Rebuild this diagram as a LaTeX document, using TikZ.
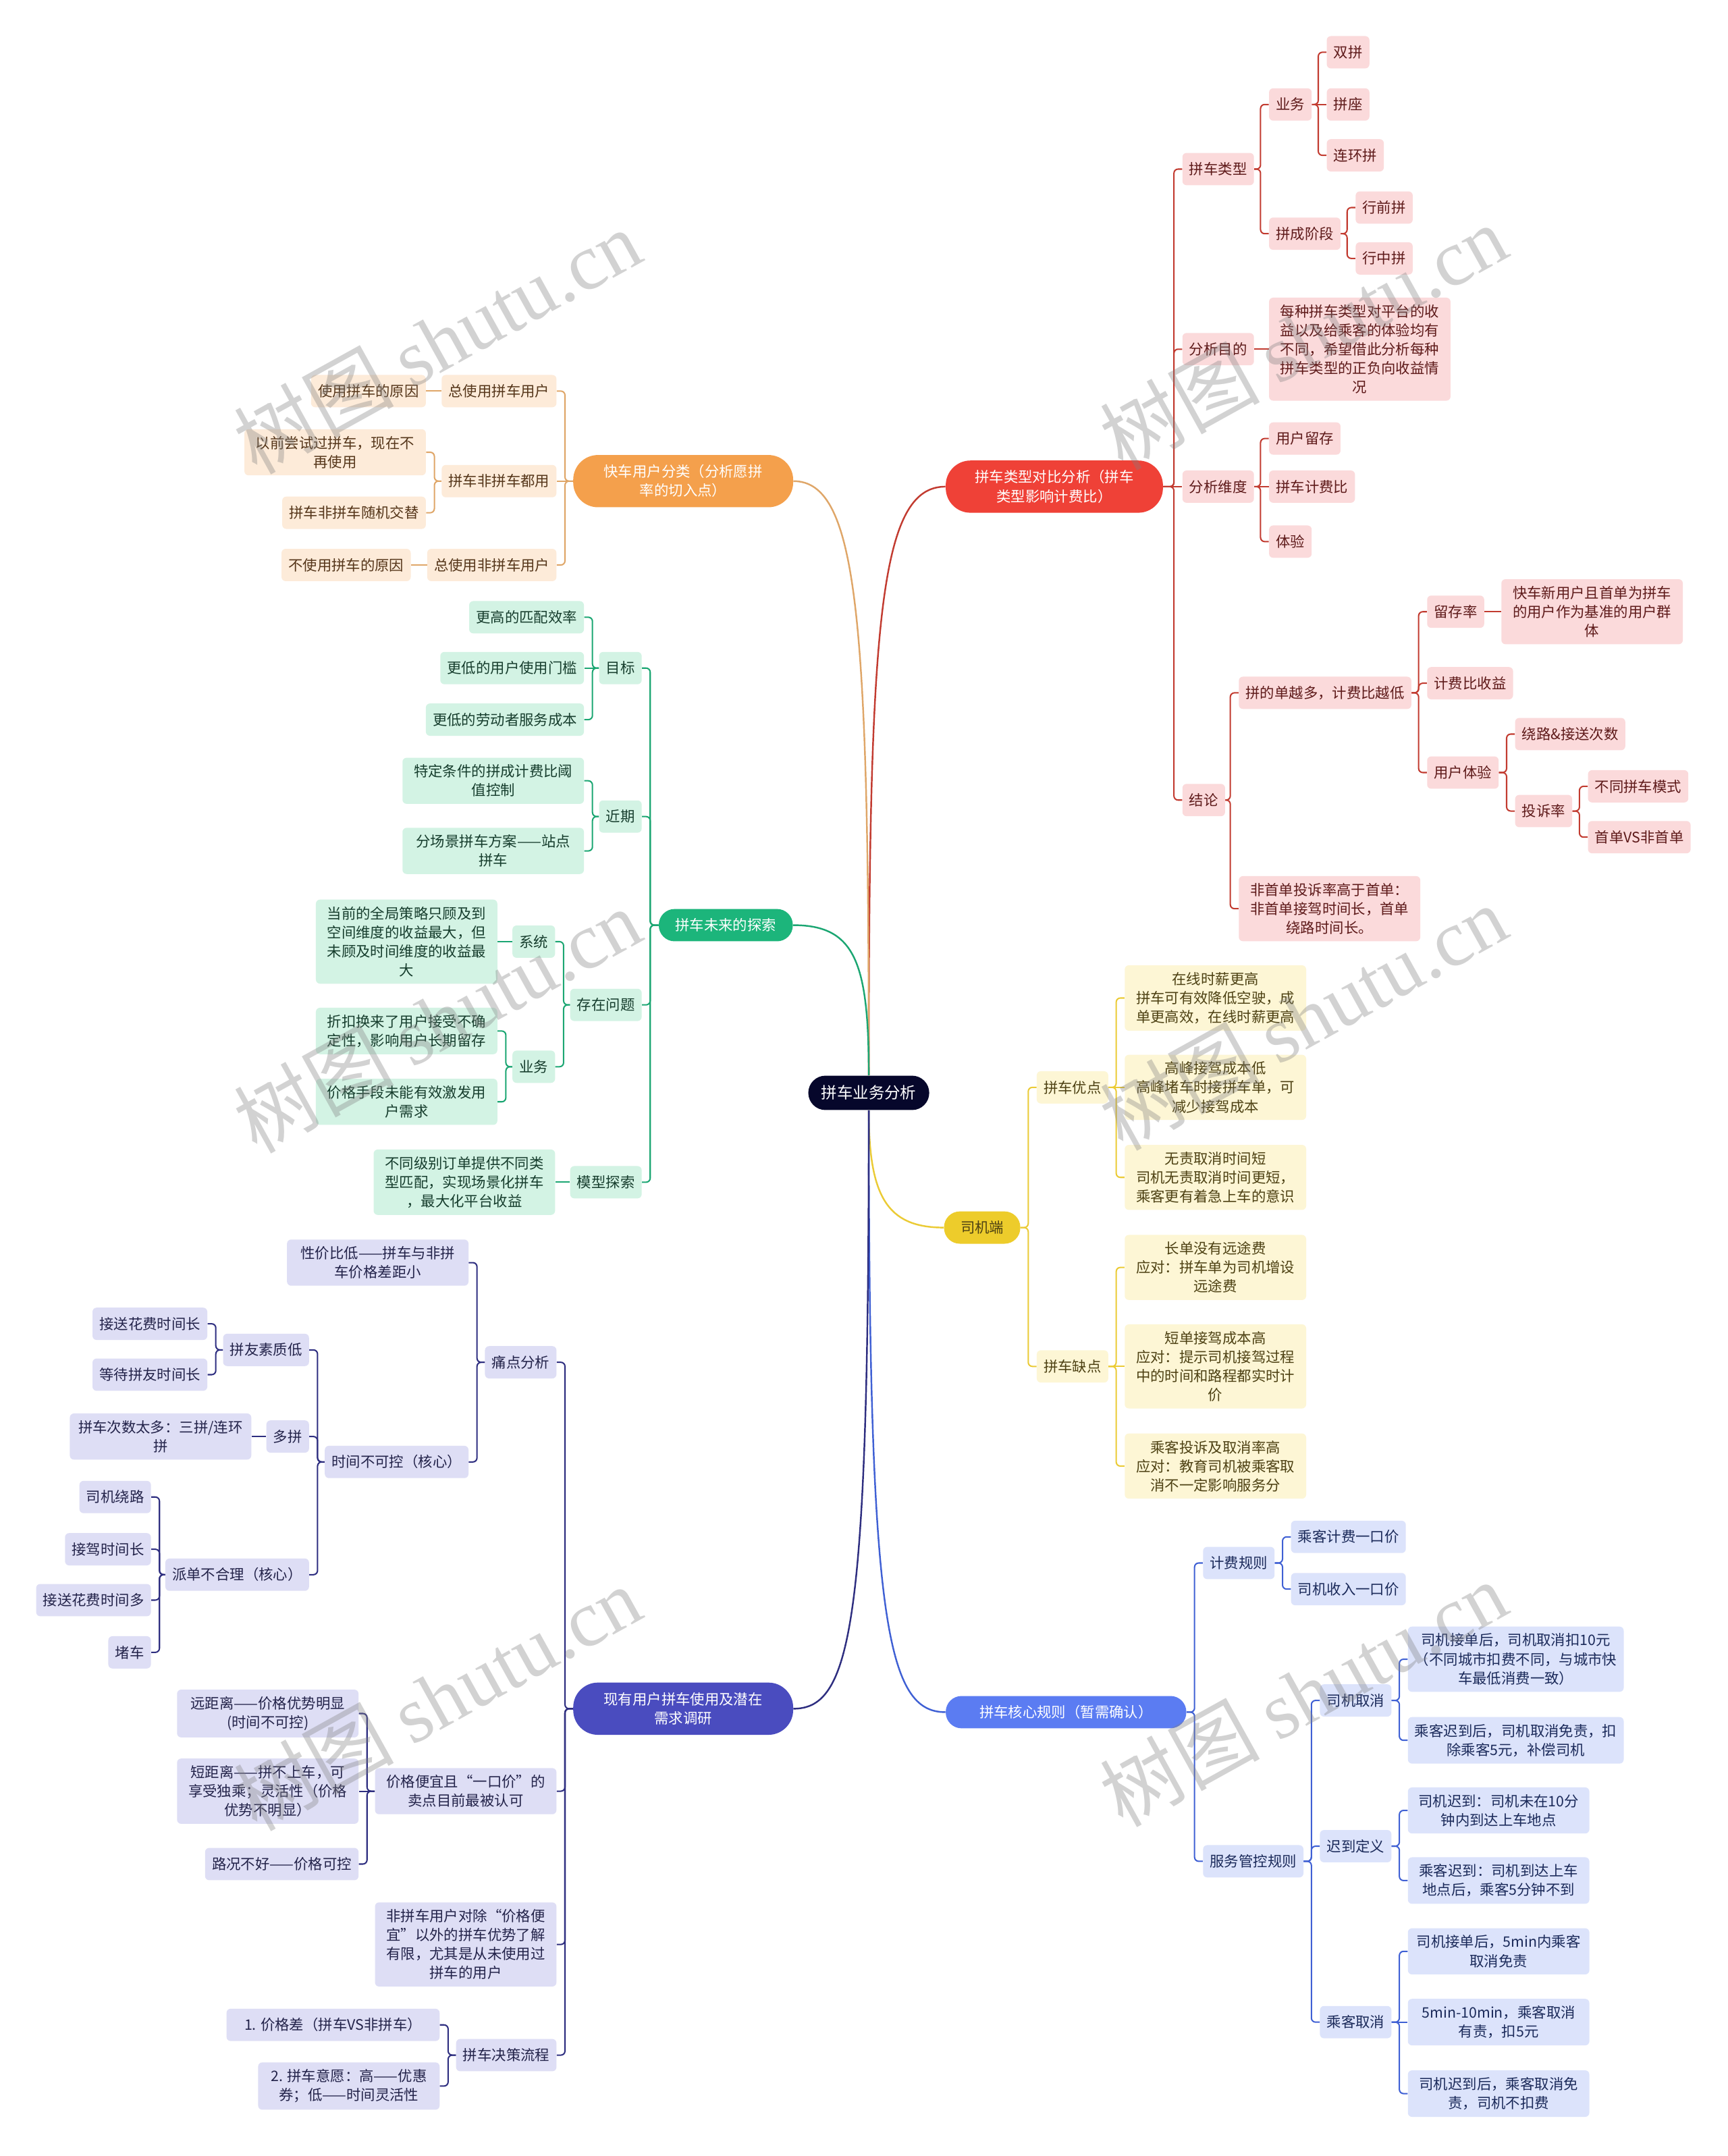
\documentclass[tikz,border=0pt]{standalone}
\usepackage{fontspec}
\setmainfont{Noto Sans CJK SC}
\newfontfamily\wmfont{Liberation Serif}

\definecolor{rootc}{HTML}{06072B}
\definecolor{redm}{HTML}{EF4137}
\definecolor{redp}{HTML}{FBDADB}
\definecolor{redl}{HTML}{C23B30}
\definecolor{redt}{HTML}{5E1A1A}
\definecolor{orgm}{HTML}{F4A04C}
\definecolor{orgp}{HTML}{FDEBD9}
\definecolor{orgl}{HTML}{DFA668}
\definecolor{orgt}{HTML}{55361A}
\definecolor{grnm}{HTML}{1CB57B}
\definecolor{grnp}{HTML}{D3F3E4}
\definecolor{grnl}{HTML}{1BA672}
\definecolor{grnt}{HTML}{163D2D}
\definecolor{ylwm}{HTML}{EDCC2B}
\definecolor{ylwp}{HTML}{FDF6D5}
\definecolor{ylwl}{HTML}{EBCB35}
\definecolor{ylwt}{HTML}{4D4113}
\definecolor{blum}{HTML}{5B7CF2}
\definecolor{blup}{HTML}{DCE3FB}
\definecolor{blul}{HTML}{3F60D4}
\definecolor{blut}{HTML}{1B2A5A}
\definecolor{indm}{HTML}{4A4CBF}
\definecolor{indp}{HTML}{DEDEF5}
\definecolor{indl}{HTML}{2E2E80}
\definecolor{indt}{HTML}{23234A}

% elbow connectors: parent side -> spine -> child side
\newcommand{\linkR}[3]{\draw[#1] (#2.east) -| ([xshift=-6pt]#3.west) -- (#3.west);}
\newcommand{\linkL}[3]{\draw[#1] (#2.west) -| ([xshift=6pt]#3.east) -- (#3.east);}

\begin{document}
\begin{tikzpicture}[x=1pt, y=-1pt,
  every node/.style={font=\fontsize{10.5}{13.8}\selectfont, align=center},
  box/.style={rounded corners=3pt, inner xsep=5pt, inner ysep=5pt, minimum height=23.5pt},
  wide/.style={minimum width=132pt},
  pill/.style={rounded corners=11.5pt, inner xsep=12pt, minimum height=23.5pt, text=white},
  pilltwo/.style={pill, rounded corners=18pt, minimum height=38pt},
  rbox/.style={box, fill=redp, text=redt},
  obox/.style={box, fill=orgp, text=orgt},
  gbox/.style={box, fill=grnp, text=grnt},
  ybox/.style={box, fill=ylwp, text=ylwt},
  bbox/.style={box, fill=blup, text=blut},
  ibox/.style={box, fill=indp, text=indt},
  rl/.style={draw=redl, line width=1pt, rounded corners=3pt},
  ol/.style={draw=orgl, line width=1pt, rounded corners=3pt},
  gl/.style={draw=grnl, line width=1pt, rounded corners=3pt},
  yl/.style={draw=ylwl, line width=1pt, rounded corners=3pt},
  bl/.style={draw=blul, line width=1pt, rounded corners=3pt},
  il/.style={draw=indl, line width=1pt, rounded corners=3pt},
  wm/.style={rotate=29, text=gray, opacity=0.35, font=\fontsize{58}{60}\selectfont}]

\fill[white] (0,0) rectangle (1257,1568.4);
\useasboundingbox (0,0) rectangle (1257,1568.4);

% centre
\node[fill=rootc, text=white, rounded corners=12.5pt, minimum width=88pt, minimum height=25pt,
  font=\fontsize{11.5}{14}\selectfont] (root) at (632,795) {拼车业务分析};

% red branch
\node[pilltwo, fill=redm, minimum width=158pt] (a) at (767,354) {拼车类型对比分析（拼车\\类型影响计费比）};
\node[rbox, anchor=west] (a1) at (860,123) {拼车类型};
\node[rbox, anchor=west] (a11) at (923,76) {业务};
\node[rbox, anchor=west] (a111) at (965,38) {双拼};
\node[rbox, anchor=west] (a112) at (965,76) {拼座};
\node[rbox, anchor=west] (a113) at (965,113) {连环拼};
\node[rbox, anchor=west] (a12) at (923,170) {拼成阶段};
\node[rbox, anchor=west] (a121) at (986,151) {行前拼};
\node[rbox, anchor=west] (a122) at (986,188) {行中拼};
\node[rbox, anchor=west] (a2) at (860,254) {分析目的};
\node[rbox, wide, anchor=west] (a21) at (923,254) {每种拼车类型对平台的收\\益以及给乘客的体验均有\\不同，希望借此分析每种\\拼车类型的正负向收益情\\况};
\node[rbox, anchor=west] (a3) at (860,354) {分析维度};
\node[rbox, anchor=west] (a31) at (923,319) {用户留存};
\node[rbox, anchor=west] (a32) at (923,354) {拼车计费比};
\node[rbox, anchor=west] (a33) at (923,394) {体验};
\node[rbox, anchor=west] (a4) at (860,582) {结论};
\node[rbox, anchor=west] (a41) at (901,504) {拼的单越多，计费比越低};
\node[rbox, anchor=west] (a411) at (1038,445) {留存率};
\node[rbox, wide, anchor=west] (a4111) at (1092,445) {快车新用户且首单为拼车\\的用户作为基准的用户群\\体};
\node[rbox, anchor=west] (a412) at (1038,497) {计费比收益};
\node[rbox, anchor=west] (a413) at (1038,562) {用户体验};
\node[rbox, anchor=west] (a4131) at (1102,534) {绕路\&接送次数};
\node[rbox, anchor=west] (a4132) at (1102,590) {投诉率};
\node[rbox, anchor=west] (a41321) at (1155,572) {不同拼车模式};
\node[rbox, anchor=west] (a41322) at (1155,609) {首单VS非首单};
\node[rbox, wide, anchor=west] (a42) at (901,661) {非首单投诉率高于首单：\\非首单接驾时间长，首单\\绕路时间长。};

% yellow branch
\node[pill, fill=ylwm, text=ylwt, minimum width=55pt] (b) at (714.5,893) {司机端};
\node[ybox, anchor=west] (b1) at (754,791) {拼车优点};
\node[ybox, wide, anchor=west] (b11) at (818,726) {在线时薪更高\\拼车可有效降低空驶，成\\单更高效，在线时薪更高};
\node[ybox, wide, anchor=west] (b12) at (818,791) {高峰接驾成本低\\高峰堵车时接拼车单，可\\减少接驾成本};
\node[ybox, wide, anchor=west] (b13) at (818,856.5) {无责取消时间短\\司机无责取消时间更短，\\乘客更有着急上车的意识};
\node[ybox, anchor=west] (b2) at (754,994) {拼车缺点};
\node[ybox, wide, anchor=west] (b21) at (818,922) {长单没有远途费\\应对：拼车单为司机增设\\远途费};
\node[ybox, wide, anchor=west] (b22) at (818,994) {短单接驾成本高\\应对：提示司机接驾过程\\中的时间和路程都实时计\\价};
\node[ybox, wide, anchor=west] (b23) at (818,1066.5) {乘客投诉及取消率高\\应对：教育司机被乘客取\\消不一定影响服务分};

% blue branch
\node[pill, fill=blum, minimum width=175pt] (c) at (775.5,1245.5) {拼车核心规则（暂需确认）};
\node[bbox, anchor=west] (c1) at (875,1137) {计费规则};
\node[bbox, anchor=west] (c11) at (939,1118) {乘客计费一口价};
\node[bbox, anchor=west] (c12) at (939,1156) {司机收入一口价};
\node[bbox, anchor=west] (c2) at (875,1354) {服务管控规则};
\node[bbox, anchor=west] (c21) at (960,1237) {司机取消};
\node[bbox, minimum width=157pt, anchor=west] (c211) at (1024,1207) {司机接单后，司机取消扣10元\\（不同城市扣费不同，与城市快\\车最低消费一致）};
\node[bbox, minimum width=157pt, anchor=west] (c212) at (1024,1266) {乘客迟到后，司机取消免责，扣\\除乘客5元，补偿司机};
\node[bbox, anchor=west] (c22) at (960,1343) {迟到定义};
\node[bbox, wide, anchor=west] (c221) at (1024,1317) {司机迟到：司机未在10分\\钟内到达上车地点};
\node[bbox, wide, anchor=west] (c222) at (1024,1368) {乘客迟到：司机到达上车\\地点后，乘客5分钟不到};
\node[bbox, anchor=west] (c23) at (960,1471) {乘客取消};
\node[bbox, wide, anchor=west] (c231) at (1024,1419.5) {司机接单后，5min内乘客\\取消免责};
\node[bbox, wide, anchor=west] (c232) at (1024,1471) {5min-10min，乘客取消\\有责，扣5元};
\node[bbox, wide, anchor=west] (c233) at (1024,1523) {司机迟到后，乘客取消免\\责，司机不扣费};

% orange branch
\node[pilltwo, fill=orgm, minimum width=160pt] (d) at (497,350) {快车用户分类（分析愿拼\\率的切入点）};
\node[obox, anchor=east] (d1) at (405,284.5) {总使用拼车用户};
\node[obox, anchor=east] (d11) at (310,284.5) {使用拼车的原因};
\node[obox, anchor=east] (d2) at (405,350) {拼车非拼车都用};
\node[obox, wide, anchor=east] (d21) at (310,329) {以前尝试过拼车，现在不\\再使用};
\node[obox, anchor=east] (d22) at (310,373) {拼车非拼车随机交替};
\node[obox, anchor=east] (d3) at (405,411) {总使用非拼车用户};
\node[obox, anchor=east] (d31) at (299,411) {不使用拼车的原因};

% green branch
\node[pill, fill=grnm, minimum width=97pt] (e) at (528,673) {拼车未来的探索};
\node[gbox, anchor=east] (e1) at (467,486) {目标};
\node[gbox, anchor=east] (e11) at (425,449) {更高的匹配效率};
\node[gbox, anchor=east] (e12) at (425,486) {更低的用户使用门槛};
\node[gbox, anchor=east] (e13) at (425,523.5) {更低的劳动者服务成本};
\node[gbox, anchor=east] (e2) at (467,594) {近期};
\node[gbox, wide, anchor=east] (e21) at (425,568) {特定条件的拼成计费比阈\\值控制};
\node[gbox, wide, anchor=east] (e22) at (425,619) {分场景拼车方案——站点\\拼车};
\node[gbox, anchor=east] (e3) at (467,731) {存在问题};
\node[gbox, anchor=east] (e31) at (404,685) {系统};
\node[gbox, wide, anchor=east] (e311) at (362,685) {当前的全局策略只顾及到\\空间维度的收益最大，但\\未顾及时间维度的收益最\\大};
\node[gbox, anchor=east] (e32) at (404,776) {业务};
\node[gbox, wide, anchor=east] (e321) at (362,750) {折扣换来了用户接受不确\\定性，影响用户长期留存};
\node[gbox, wide, anchor=east] (e322) at (362,801.5) {价格手段未能有效激发用\\户需求};
\node[gbox, anchor=east] (e4) at (467,860) {模型探索};
\node[gbox, wide, anchor=east] (e41) at (404,860) {不同级别订单提供不同类\\型匹配，实现场景化拼车\\，最大化平台收益};

% indigo branch
\node[pilltwo, fill=indm, minimum width=160pt] (f) at (497,1243) {现有用户拼车使用及潜在\\需求调研};
\node[ibox, anchor=east] (f1) at (405,991) {痛点分析};
\node[ibox, wide, anchor=east] (f11) at (341,918.5) {性价比低——拼车与非拼\\车价格差距小};
\node[ibox, anchor=east] (f12) at (341,1063.5) {时间不可控（核心）};
\node[ibox, anchor=east] (f121) at (225,982) {拼友素质低};
\node[ibox, anchor=east] (f1211) at (151,963) {接送花费时间长};
\node[ibox, anchor=east] (f1212) at (151,1000) {等待拼友时间长};
\node[ibox, anchor=east] (f122) at (225,1045) {多拼};
\node[ibox, wide, anchor=east] (f1221) at (183,1045) {拼车次数太多：三拼/连环\\拼};
\node[ibox, anchor=east] (f123) at (225,1145.5) {派单不合理（核心）};
\node[ibox, anchor=east] (f1231) at (110,1089) {司机绕路};
\node[ibox, anchor=east] (f1232) at (110,1127) {接驾时间长};
\node[ibox, anchor=east] (f1233) at (110,1164) {接送花费时间多};
\node[ibox, anchor=east] (f1234) at (110,1202) {堵车};
\node[ibox, wide, anchor=east] (f2) at (405,1303) {价格便宜且“一口价”的\\卖点目前最被认可};
\node[ibox, wide, anchor=east] (f21) at (261,1246.5) {远距离——价格优势明显\\(时间不可控)};
\node[ibox, wide, anchor=east] (f22) at (261,1303) {短距离——拼不上车，可\\享受独乘；灵活性（价格\\优势不明显）};
\node[ibox, anchor=east] (f23) at (261,1356) {路况不好——价格可控};
\node[ibox, wide, anchor=east] (f3) at (405,1414.5) {非拼车用户对除“价格便\\宜”以外的拼车优势了解\\有限，尤其是从未使用过\\拼车的用户};
\node[ibox, anchor=east] (f4) at (405,1495) {拼车决策流程};
\node[ibox, minimum width=155pt, anchor=east] (f41) at (320,1473) {1. 价格差（拼车VS非拼车）};
\node[ibox, wide, anchor=east] (f42) at (320,1517.5) {2. 拼车意愿：高——优惠\\券；低——时间灵活性};

% centre to main topics
\draw[draw=redl, line width=1.2pt] (root.north) .. controls (632,450) and (640,354) .. (a.west);
\draw[draw=orgl, line width=1.2pt] (root.north) .. controls (632,450) and (624,350) .. (d.east);
\draw[draw=grnl, line width=1.2pt] (root.north) .. controls (632,700) and (622,673) .. (e.east);
\draw[draw=ylwl, line width=1.2pt] (root.south) .. controls (632,870) and (645,893) .. (b.west);
\draw[draw=blul, line width=1.2pt] (root.south) .. controls (632,1180) and (645,1245.5) .. (c.west);
\draw[draw=indl, line width=1.2pt] (root.south) .. controls (632,1180) and (620,1243) .. (f.east);

% red links
\foreach \c in {a1,a2,a4} {\linkR{rl}{a}{\c}}
\draw[rl] (a) -- (a3);
\linkR{rl}{a1}{a11} \linkR{rl}{a1}{a12}
\linkR{rl}{a11}{a111} \linkR{rl}{a11}{a113} \draw[rl] (a11) -- (a112);
\linkR{rl}{a12}{a121} \linkR{rl}{a12}{a122}
\draw[rl] (a2) -- (a21);
\linkR{rl}{a3}{a31} \linkR{rl}{a3}{a33} \draw[rl] (a3) -- (a32);
\linkR{rl}{a4}{a41} \linkR{rl}{a4}{a42}
\foreach \c in {a411,a412,a413} {\linkR{rl}{a41}{\c}}
\draw[rl] (a411) -- (a4111);
\linkR{rl}{a413}{a4131} \linkR{rl}{a413}{a4132}
\linkR{rl}{a4132}{a41321} \linkR{rl}{a4132}{a41322}

% yellow links
\linkR{yl}{b}{b1} \linkR{yl}{b}{b2}
\linkR{yl}{b1}{b11} \linkR{yl}{b1}{b13} \draw[yl] (b1) -- (b12);
\linkR{yl}{b2}{b21} \linkR{yl}{b2}{b23} \draw[yl] (b2) -- (b22);

% blue links
\linkR{bl}{c}{c1} \linkR{bl}{c}{c2}
\linkR{bl}{c1}{c11} \linkR{bl}{c1}{c12}
\foreach \c in {c21,c22,c23} {\linkR{bl}{c2}{\c}}
\linkR{bl}{c21}{c211} \linkR{bl}{c21}{c212}
\linkR{bl}{c22}{c221} \linkR{bl}{c22}{c222}
\linkR{bl}{c23}{c231} \linkR{bl}{c23}{c233} \draw[bl] (c23) -- (c232);

% orange links
\linkL{ol}{d}{d1} \linkL{ol}{d}{d3} \draw[ol] (d) -- (d2);
\draw[ol] (d1) -- (d11);
\linkL{ol}{d2}{d21} \linkL{ol}{d2}{d22}
\draw[ol] (d3) -- (d31);

% green links
\foreach \c in {e1,e2,e3,e4} {\linkL{gl}{e}{\c}}
\linkL{gl}{e1}{e11} \linkL{gl}{e1}{e13} \draw[gl] (e1) -- (e12);
\linkL{gl}{e2}{e21} \linkL{gl}{e2}{e22}
\linkL{gl}{e3}{e31} \linkL{gl}{e3}{e32}
\draw[gl] (e31) -- (e311);
\linkL{gl}{e32}{e321} \linkL{gl}{e32}{e322}
\draw[gl] (e4) -- (e41);

% indigo links
\foreach \c in {f1,f2,f3,f4} {\linkL{il}{f}{\c}}
\linkL{il}{f1}{f11} \linkL{il}{f1}{f12}
\foreach \c in {f121,f122,f123} {\linkL{il}{f12}{\c}}
\linkL{il}{f121}{f1211} \linkL{il}{f121}{f1212}
\draw[il] (f122) -- (f1221);
\foreach \c in {f1231,f1232,f1233,f1234} {\linkL{il}{f123}{\c}}
\linkL{il}{f2}{f21} \linkL{il}{f2}{f23} \draw[il] (f2) -- (f22);
\linkL{il}{f4}{f41} \linkL{il}{f4}{f42}

% watermarks
\node[wm] (wm1) at (318,248) {树图 {\wmfont shutu.cn}};
\node[wm] (wm2) at (948,245) {树图 {\wmfont shutu.cn}};
\node[wm] (wm3) at (318,742) {树图 {\wmfont shutu.cn}};
\node[wm] (wm4) at (948,740) {树图 {\wmfont shutu.cn}};
\node[wm] (wm5) at (318,1235) {树图 {\wmfont shutu.cn}};
\node[wm] (wm6) at (948,1232) {树图 {\wmfont shutu.cn}};
\end{tikzpicture}
\end{document}
